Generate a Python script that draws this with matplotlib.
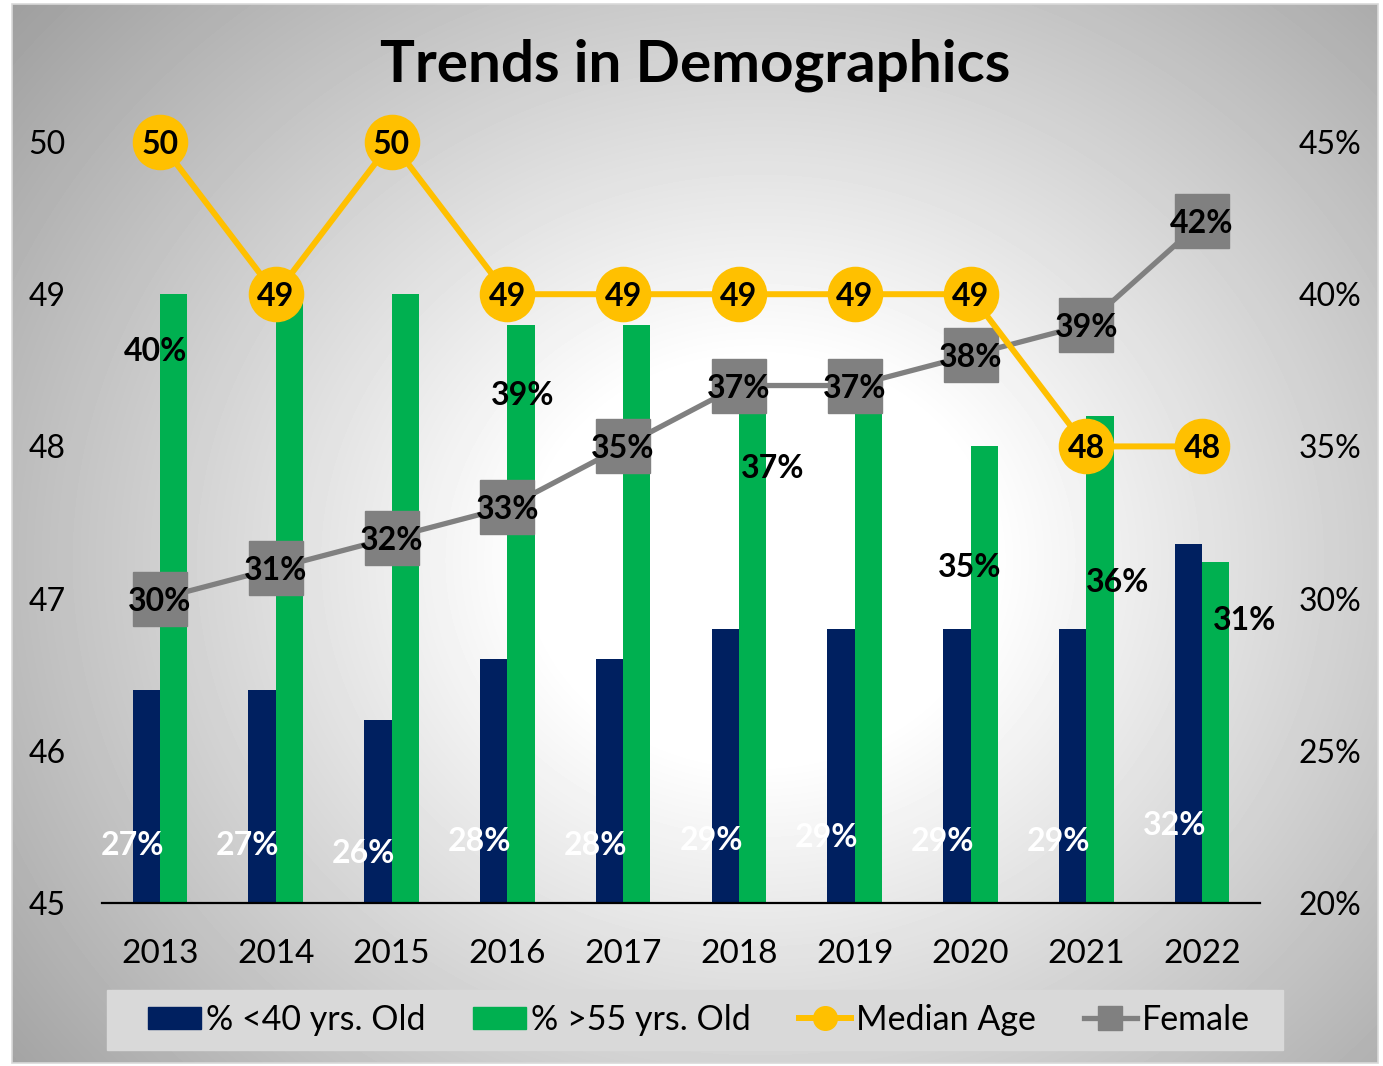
import numpy as np
import matplotlib; matplotlib.use("Agg")
import matplotlib.pyplot as plt
from matplotlib.patches import Rectangle, Patch
from matplotlib.lines import Line2D

plt.rcParams["font.family"] = ["Lato", "DejaVu Sans"]

years = ["2013", "2014", "2015", "2016", "2017", "2018", "2019", "2020", "2021", "2022"]
under40 = [27, 27, 26, 28, 28, 29, 29, 29, 29, 31.8]     # % <40 yrs. Old
over55 = [40, 40, 40, 39, 39, 37, 37, 35, 36, 31.2]      # % >55 yrs. Old
median_age = [50, 49, 50, 49, 49, 49, 49, 49, 48, 48]
female = [30, 31, 32, 33, 35, 37, 37, 38, 39, 42.4]

# where the data labels sit in the original (label y in % units)
under40_lbl_y = [21.97, 21.97, 21.71, 22.10, 21.97, 22.14, 22.23, 22.10, 22.10, 22.63]
over55_lbl_idx = [0, 3, 5, 7, 8, 9]
over55_lbl_dx = [-0.04, 0.13, 0.29, -0.01, 0.27, 0.37]
over55_lbl_y = [38.2, 36.75, 34.35, 31.1, 30.6, 29.35]

NAVY, GREEN, GOLD, GREY = "#002060", "#00B050", "#FFC000", "#808080"
W, H = 1383, 1066
fig = plt.figure(figsize=(W / 100, H / 100), dpi=100)

# radial grey gradient behind the chart
x0, y0, x1, y1 = 12, 4, 1378, 1063
bg = fig.add_axes([x0 / W, 1 - y1 / H, (x1 - x0) / W, (y1 - y0) / H], zorder=0)
xx, yy = np.meshgrid(np.arange(x0, x1), np.arange(y0, y1))
r = np.sqrt(((xx - 760) / 820) ** 2 + ((yy - 560) / 720) ** 2)
g = 1 - 0.33 * np.clip((r - 0.28) / 0.8, 0, None)
bg.imshow(g, cmap="gray", vmin=0, vmax=1, aspect="auto", interpolation="bilinear")
bg.axis("off")
fig.patches.append(Rectangle((x0 / W, 1 - y1 / H), (x1 - x0) / W, (y1 - y0) / H,
                             transform=fig.transFigure, fill=False, ec="#d9d9d9", lw=1.2))

ax = fig.add_axes([102 / W, 1 - 903 / H, (1260 - 102) / W, (903 - 142) / H], zorder=1)
ax2 = ax.twinx()
ax2.set_zorder(2)
for a in (ax, ax2):
    a.patch.set_visible(False)
    for s in ("top", "left", "right"):
        a.spines[s].set_visible(False)
ax2.spines["bottom"].set_visible(False)
ax.spines["bottom"].set_linewidth(1.6)

x = np.arange(len(years))
bw = 0.235
ax.bar(x - bw / 2, under40, bw, color=NAVY, zorder=2)
ax.bar(x + bw / 2, over55, bw, color=GREEN, zorder=2)
ax.plot(x, female, color=GREY, lw=3.8, marker="s", ms=39, zorder=4, clip_on=False)
ax2.plot(x, median_age, color=GOLD, lw=4.3, marker="o", ms=39, zorder=4, clip_on=False)

lbl = dict(fontsize=23, fontweight="bold", ha="center", va="center_baseline")
for i, y in enumerate(under40_lbl_y):
    ax.text(i - 0.24, y, f"{under40[i]:.0f}%", color="white", zorder=3, **lbl)
for i, dx, y in zip(over55_lbl_idx, over55_lbl_dx, over55_lbl_y):
    ax.text(i + dx, y, f"{over55[i]:.0f}%", color="black", zorder=3, **lbl)
for i, v in enumerate(female):
    ax.text(i, v, f"{v:.0f}%", color="black", zorder=5, clip_on=False, **lbl)
for i, v in enumerate(median_age):
    ax2.text(i, v, f"{v}", color="black", zorder=5, clip_on=False, **lbl)

ax.set_xlim(-0.5, len(years) - 0.5)
ax.set_ylim(20, 45)
ax2.set_ylim(45, 50)
ax.set_xticks(x, years)
ax.set_yticks(range(20, 46, 5), [f"{v}%" for v in range(20, 46, 5)])
ax2.set_yticks(range(45, 51))
ax.yaxis.tick_right()
ax2.yaxis.tick_left()
ax.tick_params(axis="x", length=0, pad=26, labelsize=24)
ax.tick_params(axis="y", length=0, pad=28, labelsize=23)
ax2.tick_params(axis="y", length=0, pad=26, labelsize=23)

fig.text(695 / W, 1 - 65 / H, "Trends in Demographics", fontsize=42,
         fontweight="bold", ha="center", va="center")

fig.patches.append(Rectangle((107 / W, 1 - 1050 / H), (1283 - 107) / W, 60 / H,
                             transform=fig.transFigure, color="#d9d9d9", zorder=1))
handles = [Patch(color=NAVY), Patch(color=GREEN),
           Line2D([], [], color=GOLD, lw=4.3, marker="o", ms=17),
           Line2D([], [], color=GREY, lw=3.8, marker="s", ms=17)]
fig.legend(handles, ["% <40 yrs. Old", "% >55 yrs. Old", "Median Age", "Female"],
           loc="center", bbox_to_anchor=(699 / W, 1 - 1020 / H), ncol=4, frameon=False,
           fontsize=24.5, handlelength=1.55, handleheight=0.65, handletextpad=0.15,
           columnspacing=1.4)

fig.savefig("out.png", dpi=100)
